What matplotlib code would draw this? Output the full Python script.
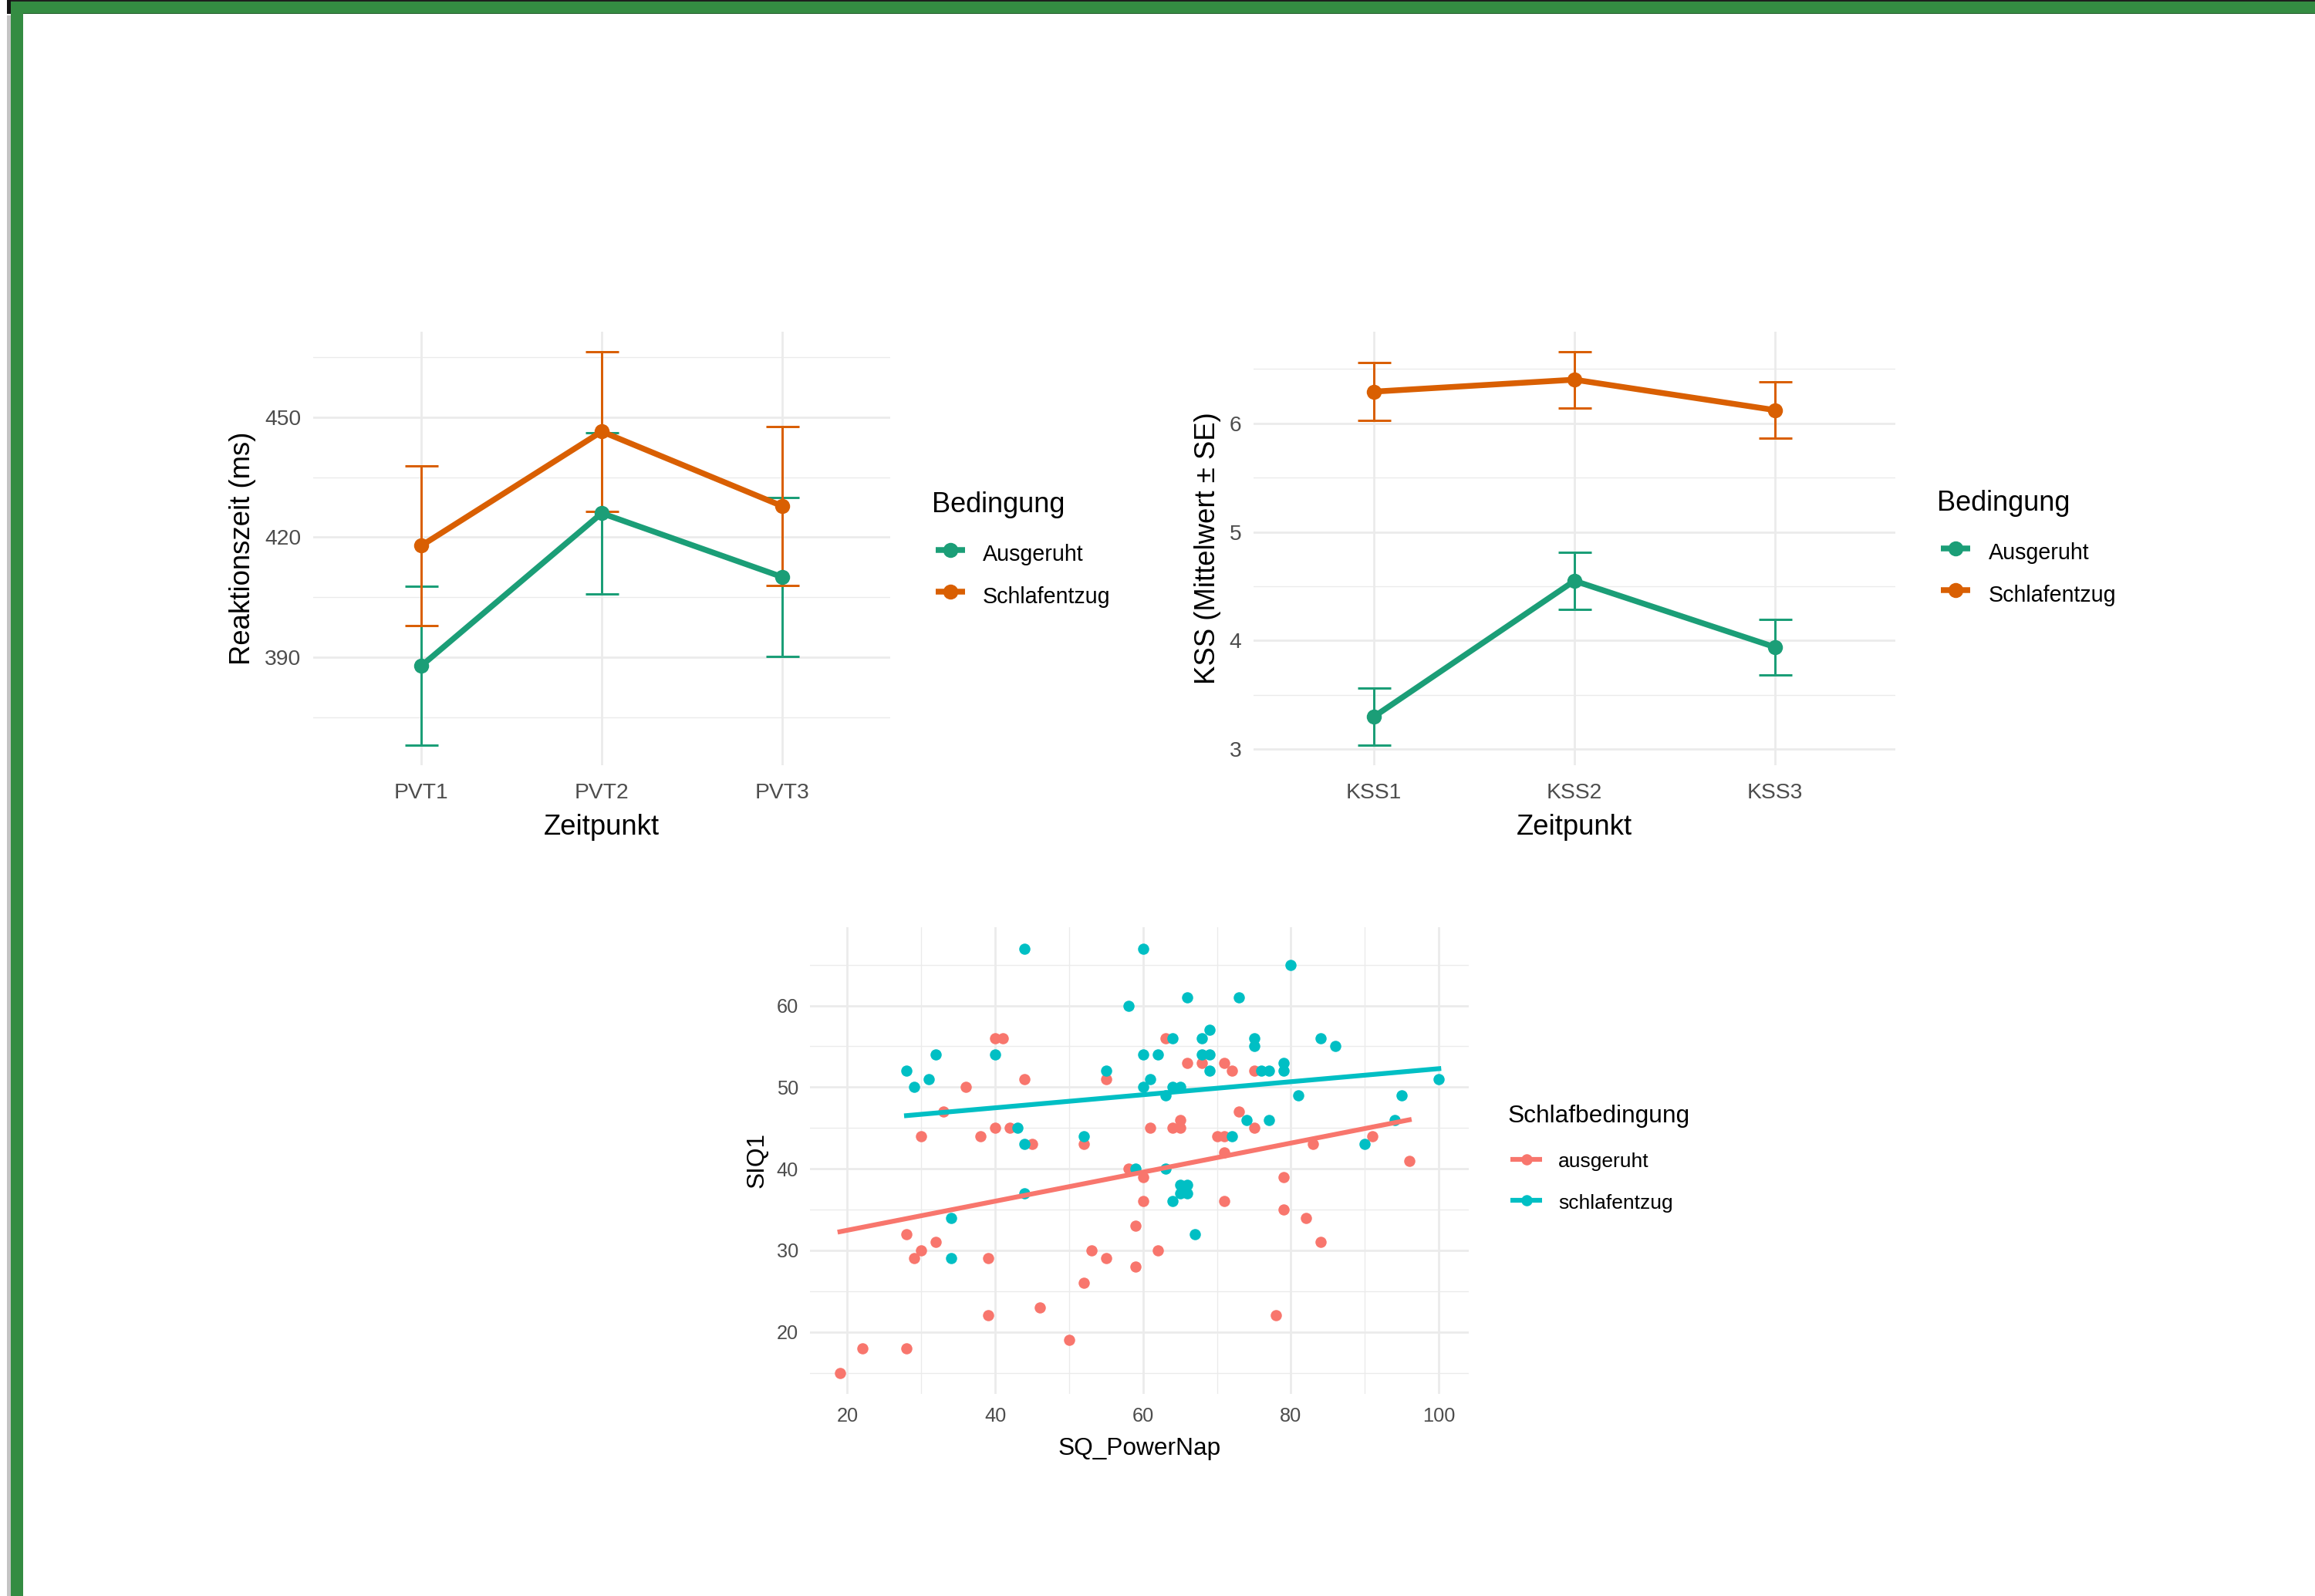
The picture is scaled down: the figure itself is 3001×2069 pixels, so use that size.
import numpy as np
import matplotlib
matplotlib.use("Agg")
import matplotlib.pyplot as plt
from matplotlib.lines import Line2D
from matplotlib.patches import Rectangle

# ---------------- data ----------------
pvt_labels = ["PVT1", "PVT2", "PVT3"]
pvt_ausgeruht_mean = [387.9, 426.0, 410.1]
pvt_ausgeruht_se = [19.9, 20.1, 19.9]
pvt_schlafentzug_mean = [417.9, 446.4, 427.8]
pvt_schlafentzug_se = [19.9, 20.0, 19.9]

kss_labels = ["KSS1", "KSS2", "KSS3"]
kss_ausgeruht_mean = [3.30, 4.55, 3.94]
kss_ausgeruht_se = [0.265, 0.26, 0.255]
kss_schlafentzug_mean = [6.29, 6.40, 6.12]
kss_schlafentzug_se = [0.265, 0.26, 0.26]

conditions = ["Ausgeruht", "Schlafentzug"]
sleep_groups = ["ausgeruht", "schlafentzug"]

ausgeruht_x = [40, 41, 44, 36, 55, 33, 30, 38, 40, 42, 45, 52, 58, 60, 60, 59,
               28, 32, 30, 29, 39, 39, 46, 50, 52, 53, 55, 59, 22, 28, 19, 71,
               79, 82, 84, 62, 78, 63, 66, 68, 71, 72, 75, 73, 65, 64, 65, 61,
               75, 70, 71, 71, 83, 91, 96, 79]
ausgeruht_y = [56, 56, 51, 50, 51, 47, 44, 44, 45, 45, 43, 43, 40, 39, 36, 33,
               32, 31, 30, 29, 29, 22, 23, 19, 26, 30, 29, 28, 18, 18, 15, 36,
               35, 34, 31, 30, 22, 56, 53, 53, 53, 52, 52, 47, 46, 45, 45, 45,
               45, 44, 44, 42, 43, 44, 41, 39]
schlafentzug_x = [44, 60, 58, 28, 29, 31, 32, 40, 55, 43, 44, 52, 59, 44, 34, 34,
                  64, 67, 80, 66, 73, 64, 68, 69, 75, 75, 84, 86, 60, 62, 68, 69,
                  69, 76, 77, 79, 79, 61, 60, 64, 65, 63, 81, 95, 100, 74, 77, 94,
                  72, 90, 63, 65, 66, 65, 66]
schlafentzug_y = [67, 67, 60, 52, 50, 51, 54, 54, 52, 45, 43, 44, 40, 37, 34, 29,
                  36, 32, 65, 61, 61, 56, 56, 57, 56, 55, 56, 55, 54, 54, 54, 54,
                  52, 52, 52, 53, 52, 51, 50, 50, 50, 49, 49, 49, 51, 46, 46, 46,
                  44, 43, 40, 38, 38, 37, 37]

# ---------------- styling ----------------
W, H, DPI = 3001, 2069, 100
FONT = ["Liberation Sans", "DejaVu Sans"]
plt.rcParams["font.family"] = FONT
DARK2 = ["#1B9E77", "#D95F02"]
HUE = ["#F8766D", "#00BFC4"]
GRID = "#EBEBEB"
TICKC = "#4D4D4D"


def fx(px):
    return px / W


def fy(py):
    return 1 - py / H


def pt(px):
    return px * 72.0 / DPI


fig = plt.figure(figsize=(W / DPI, H / DPI), dpi=DPI)
fig.patch.set_facecolor("white")

# window frame decoration
fig.add_artist(Rectangle((fx(9), 0), fx(5), 1 - 20 / H, transform=fig.transFigure,
                         facecolor="#C4C4C4", edgecolor="none"))
fig.add_artist(Rectangle((fx(9), fy(18)), fx(5), 18 / H, transform=fig.transFigure,
                         facecolor="#151515", edgecolor="none"))
fig.add_artist(Rectangle((fx(14), fy(2)), 1, 2 / H, transform=fig.transFigure,
                         facecolor="#1E1E1E", edgecolor="none"))
fig.add_artist(Rectangle((fx(14), fy(18)), 1, 1 / H, transform=fig.transFigure,
                         facecolor="#235F2D", edgecolor="none"))
fig.add_artist(Rectangle((fx(14), fy(17)), 1, 15 / H, transform=fig.transFigure,
                         facecolor="#348C42", edgecolor="none"))
fig.add_artist(Rectangle((fx(14), 0), fx(16), 1 - 2 / H, transform=fig.transFigure,
                         facecolor="#348C42", edgecolor="none"))


def style_axes(ax, tick_size, xpad_px, ypad_px, minor_x=True):
    for s in ax.spines.values():
        s.set_visible(False)
    ax.set_facecolor("white")
    ax.set_axisbelow(True)
    ax.grid(which="major", color=GRID, linewidth=pt(2.7))
    ax.yaxis.grid(which="minor", color=GRID, linewidth=pt(1.4))
    if minor_x:
        ax.xaxis.grid(which="minor", color=GRID, linewidth=pt(1.4))
    ax.tick_params(which="both", length=0, labelsize=tick_size, labelcolor=TICKC)
    ax.tick_params(axis="x", which="both", pad=pt(xpad_px))
    ax.tick_params(axis="y", which="both", pad=pt(ypad_px))


def line_panel(ax, labels, means, ses, ylabel, major, minor):
    x = np.arange(1, len(labels) + 1)
    lo = min(np.min(np.array(m) - np.array(s)) for m, s in zip(means, ses))
    hi = max(np.max(np.array(m) + np.array(s)) for m, s in zip(means, ses))
    rng = hi - lo
    for m, s, c in zip(means, ses, DARK2):
        ax.errorbar(x, m, yerr=s, fmt="none", ecolor=c, elinewidth=pt(3.0),
                    capsize=pt(21.5), capthick=pt(3.0), zorder=2)
    for m, c in zip(means, DARK2):
        ax.plot(x, m, color=c, linewidth=pt(7.5), solid_capstyle="butt", zorder=3)
    for m, c in zip(means, DARK2):
        ax.plot(x, m, linestyle="none", marker="o", markersize=pt(19.5),
                markerfacecolor=c, markeredgecolor=c, markeredgewidth=0, zorder=4)
    ax.set_xlim(0.4, len(labels) + 0.6)
    ax.set_ylim(lo - 0.05 * rng, hi + 0.05 * rng)
    ax.set_xticks(x)
    ax.set_xticklabels(labels)
    ax.set_yticks(major)
    ax.set_yticks(minor, minor=True)
    style_axes(ax, 20.3, 23, 15.5, minor_x=False)
    ax.set_xlabel("Zeitpunkt", fontsize=26.3, color="black", labelpad=pt(14))
    ax.set_ylabel(ylabel, fontsize=26.3, color="black", labelpad=pt(11))


def legend(title, labels, colors, x_title, y_title, x_key0, x_key1, ys, x_lab, y_labs,
           tsize, lsize, lw_px, ms_px):
    fig.text(fx(x_title), fy(y_title), title, fontsize=tsize, color="black",
             ha="left", va="baseline")
    for lab, c, yk, yl in zip(labels, colors, ys, y_labs):
        fig.add_artist(Line2D([fx(x_key0), fx(x_key1)], [fy(yk), fy(yk)], transform=fig.transFigure,
                              color=c, linewidth=pt(lw_px), solid_capstyle="butt"))
        fig.add_artist(Line2D([fx((x_key0 + x_key1) / 2)], [fy(yk)], transform=fig.transFigure,
                              linestyle="none", marker="o", markersize=pt(ms_px),
                              markerfacecolor=c, markeredgewidth=0))
        fig.text(fx(x_lab), fy(yl), lab, fontsize=lsize, color="black", ha="left", va="baseline")


# ---------------- panel 1: PVT ----------------
ax1 = fig.add_axes([fx(406), fy(992), 748 / W, 562 / H])
line_panel(ax1, pvt_labels, [pvt_ausgeruht_mean, pvt_schlafentzug_mean],
           [pvt_ausgeruht_se, pvt_schlafentzug_se], "Reaktionszeit (ms)",
           [390, 420, 450], [375, 405, 435, 465])
legend("Bedingung", conditions, DARK2, 1208, 664, 1213, 1251, [713, 767], 1274, [727, 782],
       26.0, 20.6, 7.5, 19.5)

# ---------------- panel 2: KSS ----------------
ax2 = fig.add_axes([fx(1625), fy(992), 832 / W, 562 / H])
line_panel(ax2, kss_labels, [kss_ausgeruht_mean, kss_schlafentzug_mean],
           [kss_ausgeruht_se, kss_schlafentzug_se], "KSS (Mittelwert ± SE)",
           [3, 4, 5, 6], [3.5, 4.5, 5.5, 6.5])
legend("Bedingung", conditions, DARK2, 2511, 662, 2516, 2554, [711, 765], 2578, [725, 780],
       26.0, 20.6, 7.5, 19.5)

# ---------------- panel 3: scatter ----------------
ax3 = fig.add_axes([fx(1050), fy(1807), 854 / W, 605 / H])
xs = [ausgeruht_x, schlafentzug_x]
ys = [ausgeruht_y, schlafentzug_y]
for gx, gy, c in zip(xs, ys, HUE):
    ax3.scatter(gx, gy, s=pt(14.5) ** 2, color=c, linewidths=0, zorder=3)
for gx, gy, c in zip(xs, ys, HUE):
    gx = np.array(gx, float)
    gy = np.array(gy, float)
    b, a = np.polyfit(gx, gy, 1)
    xx = np.linspace(gx.min(), gx.max(), 80)
    ax3.plot(xx, a + b * xx, color=c, linewidth=pt(6.2), zorder=4)
allx = np.concatenate([np.array(v, float) for v in xs])
ally = np.concatenate([np.array(v, float) for v in ys])
rx = allx.max() - allx.min()
ry = ally.max() - ally.min()
ax3.set_xlim(allx.min() - 0.05 * rx, allx.max() + 0.05 * rx)
ax3.set_ylim(ally.min() - 0.05 * ry, ally.max() + 0.05 * ry)
ax3.set_xticks([20, 40, 60, 80, 100])
ax3.set_xticks([30, 50, 70, 90], minor=True)
ax3.set_yticks([20, 30, 40, 50, 60])
ax3.set_yticks([15, 25, 35, 45, 55, 65], minor=True)
style_axes(ax3, 18.3, 17, 15, minor_x=True)
ax3.set_xlabel("SQ_PowerNap", fontsize=22.8, color="black", labelpad=pt(15))
ax3.set_ylabel("SIQ1", fontsize=22.8, color="black", labelpad=pt(10))
legend("Schlafbedingung", sleep_groups, HUE, 1955, 1455, 1958, 1999, [1503, 1556], 2020,
       [1513, 1567], 22.8, 19.0, 6.2, 14.5)

fig.savefig("out.png", dpi=DPI, facecolor="white")
